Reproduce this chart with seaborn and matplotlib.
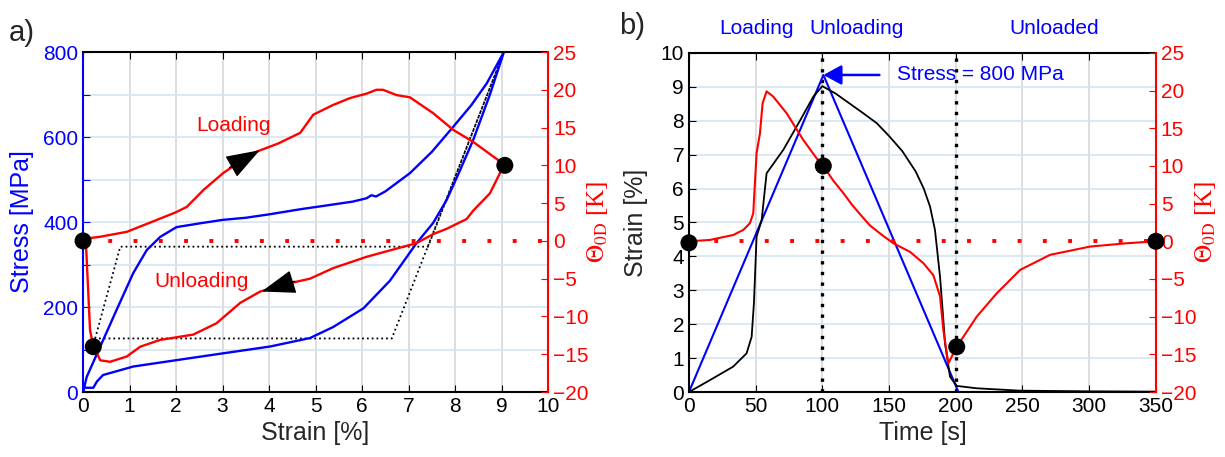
import numpy as np
import pandas as pd
import matplotlib
matplotlib.use('Agg')
import matplotlib.pyplot as plt
import seaborn as sns

# ---- data ----
# a) stress-strain loop (blue) and model (black dotted)
strain_sig = [0.0, 0.08, 0.37, 0.72, 1.08, 1.37, 1.66, 2.01, 2.52, 3.0, 3.5, 4.0, 4.67, 5.3,
              5.8, 6.1, 6.2, 6.3, 6.5, 7.03, 7.5, 7.96, 8.35, 8.68, 9.05,
              8.75, 8.39, 8.1, 7.82, 7.53, 7.17, 6.6, 6.03, 5.38, 4.88, 4.02, 3.01, 2.01,
              1.08, 0.43, 0.3, 0.22, 0.02, 0.0]
stress = [0, 36, 107, 193, 280, 334, 365, 388, 397, 405, 410, 418, 430, 440,
          448, 456, 463, 460, 472, 515, 565, 624, 675, 726, 800,
          700, 593, 520, 452, 398, 350, 262, 197, 153, 127, 107, 91, 75,
          60, 40, 25, 10, 10, 0]
model_strain = [0.26, 0.8, 7.42, 9.05, 6.64, 0.26]
model_stress = [126, 342, 342, 800, 126, 126]

# a) temperature change vs strain (red)
strain_th = [0.0, 0.05, 0.37, 0.94, 1.58, 2.0, 2.23, 2.6, 3.01, 3.4, 3.73, 4.2, 4.67, 4.95,
             5.38, 5.74, 6.1, 6.31, 6.45, 6.74, 7.03, 7.53, 7.96, 8.39, 8.97, 9.07,
             9.0, 8.75, 8.39, 8.25, 7.82, 7.53, 7.17, 6.1, 5.38, 4.88, 4.45, 4.16, 3.81,
             3.38, 2.87, 2.37, 1.66, 1.23, 0.94, 0.58, 0.37, 0.26, 0.22, 0.15, 0.06, 0.0]
theta_a = [0.0, 0.3, 0.55, 1.2, 2.76, 3.8, 4.5, 6.8, 8.96, 10.6, 11.8, 12.9, 14.3, 16.7,
           18.0, 18.9, 19.5, 20.0, 20.0, 19.3, 19.0, 16.9, 14.7, 13.1, 10.5, 10.0,
           9.4, 6.3, 4.0, 2.9, 1.6, 0.9, -0.3, -2.1, -3.6, -5.0, -5.6, -6.06, -6.7,
           -8.2, -10.9, -12.4, -13.1, -14.0, -15.3, -16.0, -15.8, -14.4, -14.0, -11.8, 0.0, 0.0]
dots_a_strain = [0.0, 0.22, 9.07]
dots_a_theta = [0.0, -14.0, 10.0]

# b) time histories
t_stress = [0, 100.8, 202, 350]
stress_scaled = [0, 9.35, 0, 0]
t_strain = [0, 15.7, 33.2, 43.2, 47, 48.7, 49.7, 50.7, 54.5, 58.2, 70.7, 83.2, 93.2, 100,
            110, 120, 130, 140.7, 150, 160, 170, 176, 180.7, 184.4, 188.2, 190.7, 191.9,
            195.7, 200.7, 215.7, 248, 300, 350]
strain_b = [0, 0.35, 0.75, 1.14, 1.63, 2.62, 3.6, 4.58, 5.07, 6.45, 7.14, 8.0, 8.71, 9.02,
            8.8, 8.52, 8.24, 7.93, 7.55, 7.1, 6.5, 6.0, 5.47, 4.78, 3.4, 2.12, 1.44,
            0.45, 0.18, 0.11, 0.04, 0.02, 0.01]
t_theta = [0, 15.7, 33.2, 40.7, 45.7, 48.2, 50.7, 53.2, 55.2, 58.2, 63.2, 73.2, 85.7, 98.2,
           100.7, 108, 115.7, 122, 128.2, 135.7, 145, 153.2, 165.7, 175.7, 183.2, 188.2,
           190.7, 194.4, 200.7, 215.7, 230.7, 248.2, 270.6, 300.6, 328, 350]
theta_b = [0, 0.18, 0.84, 1.5, 2.4, 3.7, 11.7, 14.3, 18.3, 19.9, 19.2, 17.0, 13.45, 10.4,
           10.0, 8.1, 6.4, 4.9, 3.6, 2.1, 0.8, -0.26, -1.4, -2.9, -4.5, -7.3,
           -11.8, -16.2, -14.0, -10.0, -6.9, -3.8, -1.8, -0.7, -0.26, 0]
dots_b_t = [0, 100.7, 200.7, 350]
dots_b_theta = [-0.2, 10.0, -14.0, 0.0]
phase_bounds = [100, 200]
phase_names = ['Loading', 'Unloading', 'Unloaded']
phase_centers = [50.7, 126, 274]
theta_ref = 0

BLUE = '#0000ff'
RED = '#ff0000'
GRID_H = '#d5e5f4'
GRID_V = '#d8d8d8'

sns.set_style('ticks')
plt.rcParams['font.family'] = ['Liberation Sans', 'DejaVu Sans']
plt.rcParams['mathtext.fontset'] = 'stix'
theta_label = r'$\Theta_{\mathrm{0D}}$ [K]'
serif = ['Liberation Serif', 'DejaVu Serif']

fig = plt.figure(figsize=(12.25, 4.57), dpi=100)
ax1 = fig.add_axes([0.0678, 0.1422, 0.3796, 0.744])
ax2 = fig.add_axes([0.5624, 0.1422, 0.3812, 0.742])


def style_axes(ax, axr, left_color):
    ax.set_axisbelow(True)
    ax.yaxis.grid(True, color=GRID_H, lw=1.2)
    ax.xaxis.grid(True, color=GRID_V, lw=1.2)
    ax.tick_params(axis='x', direction='in', top=True, length=5, labelsize=15, colors='k')
    ax.tick_params(axis='y', direction='in', length=5, labelsize=15, colors=left_color)
    axr.tick_params(axis='y', direction='in', length=5, labelsize=15, colors=RED)
    ax.spines['left'].set_color(left_color)
    ax.spines['top'].set_color('k')
    ax.spines['bottom'].set_color('k')
    ax.spines['right'].set_visible(False)
    for s in ['left', 'top', 'bottom']:
        axr.spines[s].set_visible(False)
    axr.spines['right'].set_color(RED)
    for a in (ax, axr):
        for s in a.spines.values():
            s.set_linewidth(1.5)


arrow_a = dict(arrowstyle='-|>,head_length=0.8,head_width=0.28',
               color='k', lw=1, mutation_scale=27, shrinkA=0, shrinkB=0)

# ---------- a) ----------
ax1r = ax1.twinx()
sns.lineplot(x=model_strain, y=model_stress, sort=False, estimator=None, ax=ax1,
             color='k', lw=1.3, linestyle=':')
sns.lineplot(x=strain_sig, y=stress, sort=False, estimator=None, ax=ax1, color=BLUE, lw=1.7)
ax1r.axhline(theta_ref, color=RED, lw=2.8, linestyle=(0, (1, 5.5)))
sns.lineplot(x=strain_th, y=theta_a, sort=False, estimator=None, ax=ax1r, color=RED, lw=1.7)
sns.scatterplot(x=dots_a_strain, y=dots_a_theta, ax=ax1r, color='k', s=150,
                edgecolor='none', clip_on=False, zorder=5)
ax1r.annotate('', xy=(3.8, 12.0), xytext=(3.15, 9.7), arrowprops=arrow_a)
ax1r.annotate('', xy=(3.84, -6.7), xytext=(4.55, -5.35), arrowprops=arrow_a)
ax1r.text(3.23, 15.3, 'Loading', color=RED, fontsize=15, ha='center', va='center')
ax1r.text(2.55, -5.4, 'Unloading', color=RED, fontsize=15, ha='center', va='center')

ax1.set_xlim(0, 10)
ax1.set_ylim(0, 800)
ax1r.set_ylim(-20, 25)
ax1.set_xticks(range(0, 11))
ax1.set_yticks(range(0, 801, 100))
ax1.set_yticklabels([str(v) if v % 200 == 0 else '' for v in range(0, 801, 100)])
ax1r.set_yticks(range(-20, 26, 5))
style_axes(ax1, ax1r, BLUE)
ax1.set_xlabel('Strain [%]', fontsize=18, labelpad=4)
ax1.set_ylabel('Stress [MPa]', fontsize=18, color=BLUE)
ax1.yaxis.set_label_coords(-0.105, 0.5)
ax1r.set_ylabel(theta_label, fontsize=18, color=RED, family=serif)
ax1r.yaxis.set_label_coords(1.08, 0.5)

# ---------- b) ----------
ax2r = ax2.twinx()
for tb in phase_bounds:
    ax2.axvline(tb, color='k', lw=2.4, linestyle=(0, (1, 2.2)))
sns.lineplot(x=t_stress, y=stress_scaled, sort=False, estimator=None, ax=ax2, color=BLUE, lw=1.5)
sns.lineplot(x=t_strain, y=strain_b, sort=False, estimator=None, ax=ax2, color='k', lw=1.3)
ax2r.axhline(theta_ref, color=RED, lw=2.8, linestyle=(0, (1, 5.5)))
sns.lineplot(x=t_theta, y=theta_b, sort=False, estimator=None, ax=ax2r, color=RED, lw=1.5)
sns.scatterplot(x=dots_b_t, y=dots_b_theta, ax=ax2r, color='k', s=150,
                edgecolor='none', clip_on=False, zorder=5)
ax2.annotate('Stress = 800 MPa', xy=(100.8, 9.35), xytext=(155.6, 9.35),
             color=BLUE, fontsize=15, ha='left', va='center',
             arrowprops=dict(arrowstyle='-|>,head_length=0.55,head_width=0.3',
                             color=BLUE, lw=1.8, mutation_scale=20, shrinkA=10, shrinkB=0))
for name, tc in zip(phase_names, phase_centers):
    ax2.text(tc, 1.072, name, color=BLUE, fontsize=15, ha='center', va='center',
             transform=ax2.get_xaxis_transform())

ax2.set_xlim(0, 350)
ax2.set_ylim(0, 10)
ax2r.set_ylim(-20, 25)
ax2.set_xticks(range(0, 351, 50))
ax2.set_yticks(range(0, 11))
ax2r.set_yticks(range(-20, 26, 5))
style_axes(ax2, ax2r, 'k')
ax2.set_xlabel('Time [s]', fontsize=18, labelpad=4)
ax2.set_ylabel('Strain [%]', fontsize=18)
ax2.yaxis.set_label_coords(-0.088, 0.5)
ax2r.set_ylabel(theta_label, fontsize=18, color=RED, family=serif)
ax2r.yaxis.set_label_coords(1.079, 0.5)

fig.text(0.018, 0.928, 'a)', fontsize=21, ha='center', va='center')
fig.text(0.516, 0.943, 'b)', fontsize=21, ha='center', va='center')

fig.savefig('out.png', dpi=100)
